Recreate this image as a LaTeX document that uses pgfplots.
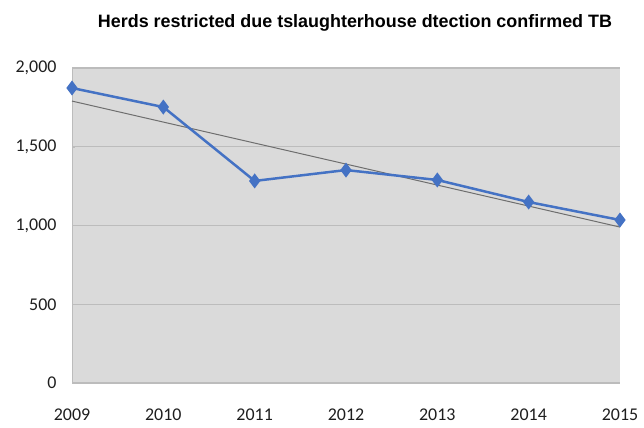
\documentclass[border=0pt]{standalone}
\usepackage{pgfplots}
\pgfplotsset{compat=1.18}
\usepackage{fontspec}
\setmainfont{Carlito}
\newfontfamily\titlefont{Liberation Sans}
\definecolor{plotbg}{RGB}{218,218,218}
\definecolor{gridc}{RGB}{188,188,188}
\definecolor{serblue}{RGB}{68,114,196}
\definecolor{trendc}{RGB}{110,110,110}
\definecolor{tickc}{RGB}{30,30,30}
\begin{document}
\begin{tikzpicture}
\begin{axis}[
  scale only axis,
  width=548bp, height=315bp,
  xmin=2009, xmax=2015,
  ymin=0, ymax=2000,
  xtick={2009,2010,2011,2012,2013,2014,2015},
  ytick={0,500,1000,1500,2000},
  xticklabel style={/pgf/number format/1000 sep={}, font=\fontsize{18}{20}\selectfont, text=tickc, yshift=-22bp},
  yticklabel style={/pgf/number format/1000 sep={,}, font=\fontsize{18}{20}\selectfont, text=tickc, xshift=-12bp},
  /pgf/number format/assume math mode=true,
  axis background/.style={fill=plotbg},
  axis line style={draw=gridc},
  axis x line*=bottom, axis y line*=left,
  ymajorgrids, grid style={gridc, line width=1.4pt},
  major tick length=3bp,
  tick style={gridc},
  xtick style={draw=none},
  clip=false,
  title style={font=\titlefont\bfseries\fontsize{18}{20}\selectfont, at={(0.5,1)}, anchor=center, yshift=39bp, xshift=9bp},
  title={Herds restricted due tslaughterhouse dtection confirmed TB},
]
\addplot[trendc, line width=1pt] coordinates {(2009,1790) (2015,990)};
\addplot[serblue, line width=2.5pt, mark=diamond*, mark size=5.5pt, mark options={fill=serblue, draw=serblue}] coordinates {
(2009,1873) (2010,1752) (2011,1283) (2012,1352) (2013,1289) (2014,1149) (2015,1035)};
\end{axis}
\path (current axis.south west) ++(-72bp,-45bp) coordinate (bl);
\path (current axis.north east) ++(24bp,68bp) coordinate (tr);
\useasboundingbox (bl) rectangle (tr);
\end{tikzpicture}
\end{document}
